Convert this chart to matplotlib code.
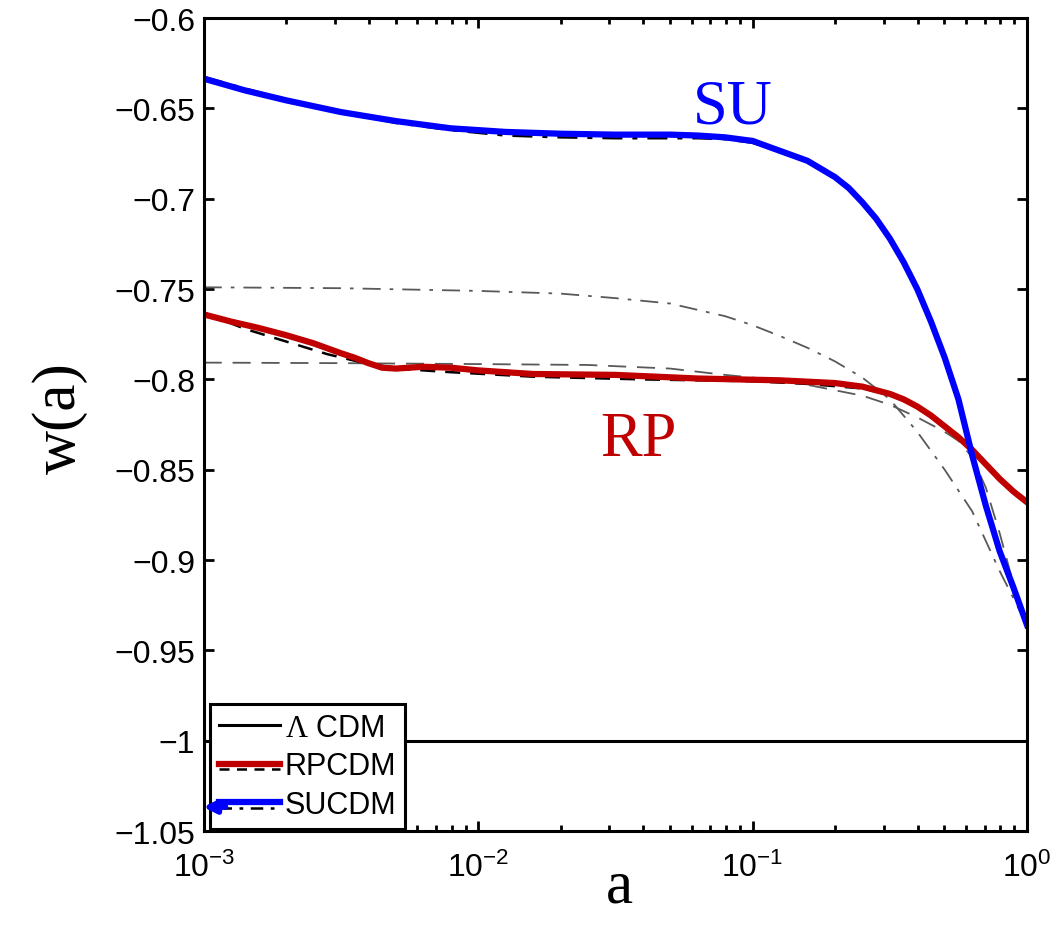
import numpy as np
import matplotlib
matplotlib.use("Agg")
import matplotlib.pyplot as plt
import matplotlib.ticker as mticker
import matplotlib.patheffects as pe
from matplotlib.lines import Line2D
from matplotlib.legend_handler import HandlerTuple

plt.rcParams["font.family"] = ["Liberation Sans", "DejaVu Sans"]
plt.rcParams["mathtext.fontset"] = "custom"
plt.rcParams["mathtext.rm"] = "Liberation Sans"
plt.rcParams["mathtext.it"] = "Liberation Sans:italic"
plt.rcParams["mathtext.tt"] = "Liberation Serif"

# ---------------------------------------------------------------------------
# Equation of state w(a), tabulated as log10(a) -> w
# ---------------------------------------------------------------------------

# SU model (blue) and its SUCDM fit (black dash-dot underneath)
su_loga = [-3.0, -2.85, -2.7, -2.5, -2.3, -2.1, -1.9, -1.7, -1.5, -1.3, -1.2,
           -1.1, -1.0, -0.9, -0.8, -0.7, -0.65, -0.6, -0.55, -0.5, -0.45, -0.4,
           -0.35, -0.3, -0.25, -0.2, -0.15, -0.1, -0.05, 0.0]
su_w = [-0.6335, -0.640, -0.6455, -0.652, -0.657, -0.661, -0.663, -0.664,
        -0.6645, -0.6645, -0.665, -0.666, -0.668, -0.6735, -0.679, -0.688,
        -0.694, -0.702, -0.711, -0.722, -0.735, -0.750, -0.768, -0.788, -0.811,
        -0.842, -0.870, -0.895, -0.915, -0.936]
sufit_w = [-0.6325, -0.639, -0.645, -0.652, -0.658, -0.662, -0.665, -0.666,
           -0.6665, -0.6665, -0.6665, -0.667, -0.669, -0.674, -0.6795, -0.688,
           -0.694, -0.702, -0.711, -0.722, -0.735, -0.750, -0.768, -0.788,
           -0.811, -0.842, -0.870, -0.895, -0.915, -0.936]

# RP model (red)
rp_loga = [-3.0, -2.9, -2.8, -2.7, -2.6, -2.5, -2.45, -2.4, -2.35, -2.3, -2.25,
           -2.2, -2.1, -2.0, -1.8, -1.5, -1.2, -0.9, -0.7, -0.6, -0.5, -0.45,
           -0.4, -0.35, -0.3, -0.25, -0.2, -0.15, -0.1, -0.05, 0.0]
rp_w = [-0.764, -0.768, -0.7715, -0.7755, -0.780, -0.7855, -0.788, -0.791,
        -0.7935, -0.794, -0.7935, -0.793, -0.7935, -0.795, -0.797, -0.7975,
        -0.7995, -0.8005, -0.802, -0.804, -0.808, -0.811, -0.815, -0.820,
        -0.826, -0.832, -0.839, -0.847, -0.855, -0.862, -0.868]

# RPCDM fit (black dashed under the red curve)
rpfit_loga = [-3.0, -2.85, -2.7, -2.55, -2.4, -2.25, -2.1, -1.8, -1.4, -1.0,
              -0.8, -0.6, -0.5, -0.4, -0.3, -0.2, -0.1, 0.0]
rpfit_w = [-0.763, -0.772, -0.779, -0.786, -0.7915, -0.7945, -0.796, -0.7985,
           -0.800, -0.801, -0.8025, -0.805, -0.8085, -0.815, -0.8255, -0.839,
           -0.855, -0.868]

# grey reference parametrisations
ref1_loga = [-3.0, -2.5, -2.0, -1.6, -1.3, -1.1, -0.9, -0.8, -0.7, -0.6, -0.5,
             -0.4, -0.3, -0.25, -0.2, -0.15, -0.1, -0.05, 0.0]
ref1_w = [-0.7907, -0.791, -0.7915, -0.792, -0.794, -0.7975, -0.8005, -0.803,
          -0.806, -0.809, -0.814, -0.821, -0.829, -0.834, -0.843, -0.860,
          -0.885, -0.913, -0.936]

ref2_loga = [-3.0, -2.5, -2.0, -1.7, -1.5, -1.3, -1.1, -1.0, -0.9, -0.8, -0.7,
             -0.6, -0.5, -0.4, -0.3, -0.2, -0.1, 0.0]
ref2_w = [-0.749, -0.7495, -0.751, -0.7525, -0.755, -0.758, -0.765, -0.770,
          -0.776, -0.7825, -0.790, -0.799, -0.811, -0.829, -0.850, -0.873,
          -0.906, -0.936]

lcdm_w = -1.0

x_ticks = [1e-3, 1e-2, 1e-1, 1e0]
x_ticklabels = [r"$10^{-3}$", r"$10^{-2}$", r"$10^{-1}$", r"$10^{0}$"]
y_ticks = [-1.05, -1.0, -0.95, -0.9, -0.85, -0.8, -0.75, -0.7, -0.65, -0.6]
y_ticklabels = ["\u22121.05", "\u22121", "\u22120.95", "\u22120.9", "\u22120.85",
                "\u22120.8", "\u22120.75", "\u22120.7", "\u22120.65", "\u22120.6"]


def a_of(loga):
    return 10.0 ** np.asarray(loga)


fig = plt.figure(figsize=(10.61, 9.28), dpi=100)
ax = fig.add_axes([0.192, 0.1034, 0.776, 0.876])

grey = "0.35"
ax.plot(a_of(ref2_loga), ref2_w, color=grey, lw=1.3, dashes=(10, 5, 2, 5))
ax.plot(a_of(ref1_loga), ref1_w, color=grey, lw=1.3, dashes=(10, 6))

ax.axhline(lcdm_w, color="black", lw=2.2)

ax.plot(a_of(rpfit_loga), rpfit_w, color="black", lw=1.8, dashes=(6, 4))
ax.plot(a_of(rp_loga), rp_w, color="#c00000", lw=4.5)

ax.plot(a_of(su_loga), sufit_w, color="black", lw=1.8, dashes=(8, 4, 2, 4))
ax.plot(a_of(su_loga), su_w, color="#0000ff", lw=4.5)

ax.set_xscale("log")
ax.set_xlim(1e-3, 1)
ax.set_ylim(-1.05, -0.6)

ax.xaxis.set_major_locator(mticker.FixedLocator(x_ticks))
ax.xaxis.set_major_formatter(mticker.FixedFormatter(x_ticklabels))
ax.xaxis.set_minor_locator(mticker.LogLocator(base=10, subs=np.arange(2, 10)))
ax.xaxis.set_minor_formatter(mticker.NullFormatter())
ax.yaxis.set_major_locator(mticker.FixedLocator(y_ticks))
ax.yaxis.set_major_formatter(mticker.FixedFormatter(y_ticklabels))

ax.tick_params(which="both", direction="in", top=True, right=True, width=2)
ax.tick_params(which="major", length=7, labelsize=23)
ax.tick_params(which="minor", length=4)
ax.tick_params(axis="x", which="major", pad=15)
ax.tick_params(axis="y", which="major", pad=6)
for s in ax.spines.values():
    s.set_linewidth(2.2)

ax.set_xlabel("a", family="Liberation Serif", fontsize=44)
ax.xaxis.set_label_coords(0.505, -0.035)
ax.set_ylabel("w(a)", family="Liberation Serif", fontsize=44)
ax.yaxis.set_label_coords(-0.141, 0.509)

ax.text(0.0607, -0.6577, "SU", color="#0000ff", family="Liberation Serif",
        fontsize=45, va="baseline")
ax.text(0.0278, -0.842, "RP", color="#c00000", family="Liberation Serif",
        fontsize=45, va="baseline")

# legend: fit line drawn slightly below the coloured model line
h_l = Line2D([], [], color="black", lw=2.2)
h_rpfit = Line2D([], [], color="black", lw=1.8, dashes=(4, 3),
                 path_effects=[pe.Stroke(offset=(0, -4)), pe.Normal()])
h_rp = Line2D([], [], color="#c00000", lw=4.5)
h_sufit = Line2D([], [], color="black", lw=1.8, dashes=(5, 3, 1.5, 3),
                 path_effects=[pe.Stroke(offset=(0, -4)), pe.Normal()])
h_su = Line2D([], [], color="#0000ff", lw=4.5)
leg = ax.legend([h_l, (h_rpfit, h_rp), (h_sufit, h_su)],
                ["$\\mathtt{\\Lambda}$ CDM", "RPCDM", "SUCDM"],
                handler_map={tuple: HandlerTuple(ndivide=1)},
                loc="lower left", bbox_to_anchor=(0.008, 0.003), borderaxespad=0,
                fontsize=22, handlelength=2.0, handletextpad=0.15,
                labelspacing=0.28, borderpad=0.28, fancybox=False, framealpha=1)
leg.get_frame().set_edgecolor("black")
leg.get_frame().set_linewidth(2.2)

ax.annotate("", xy=(-0.004, 0.0295), xytext=(0.03, 0.0295),
            xycoords="axes fraction",
            arrowprops=dict(arrowstyle="-|>", color="#0000ff", lw=4,
                            mutation_scale=18),
            annotation_clip=False, zorder=10)

fig.savefig("out.png", dpi=100)
